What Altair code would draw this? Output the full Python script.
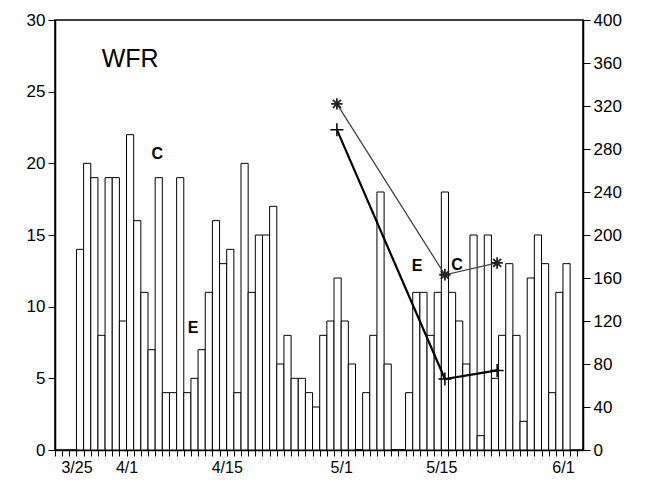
import altair as alt
import pandas as pd

# Daily bar values (left axis), day 0 = 3/25
counts = [14, 20, 19, 8, 19, 19, 9, 22, 16, 11, 7, 19, 4, 4, 19, 4, 5, 7, 11, 16, 13, 14, 4,
          20, 11, 15, 15, 17, 6, 8, 5, 5, 4, 3, 8, 9, 12, 9, 6, 0, 4, 8, 18, 6, 0, 0,
          4, 11, 11, 8, 11, 18, 11, 9, 6, 15, 1, 15, 5, 8, 13, 8, 2, 12, 15, 13, 4, 11, 13]
tick_days = [0, 7, 21, 37, 51, 68]
tick_labels = ["3/25", "4/1", "4/15", "5/1", "5/15", "6/1"]

# Line series (right axis)
line_days = [36.4, 51.5, 58.8]
star_values = [322, 163, 174]
plus_values = [298, 66, 74]

# Annotations
annot_text = ["WFR", "C", "E", "E", "C"]
annot_x = [7.5, 11.3, 16.3, 47.6, 53.2]
annot_y = [27.3, 20.65, 8.5, 12.85, 12.9]

bars_df = pd.DataFrame({
    "day": list(range(len(counts))),
    "day_end": [i + 1 for i in range(len(counts))],
    "count": counts,
    "base": [0] * len(counts),
})
star_df = pd.DataFrame({"day": line_days, "value": star_values})
plus_df = pd.DataFrame({"day": line_days, "value": plus_values})
annot_df = pd.DataFrame({"label": annot_text, "x": annot_x, "y": annot_y})

FONT = "Liberation Sans"

expr = "''"
for d, l in reversed(list(zip(tick_days, tick_labels))):
    expr = f"datum.value == {d} ? '{l}' : ({expr})"

xscale = alt.Scale(domain=[-3, 70.8], nice=False, zero=False)
xaxis = alt.Axis(values=list(range(-3, 71)), labelExpr=expr, tickSize=6,
                 labelFontSize=16, labelPadding=3, grid=False, title=None,
                 labelOverlap=False, labelFlush=False)

yl_scale = alt.Scale(domain=[0, 30], nice=False, padding=0)
yl_axis = alt.Axis(values=[0, 5, 10, 15, 20, 25, 30], tickSize=7, labelFontSize=17,
                   labelPadding=3, grid=False, title=None, orient="left")
yr_scale = alt.Scale(domain=[0, 400], nice=False)
yr_axis = alt.Axis(values=list(range(0, 401, 40)), tickSize=7, labelFontSize=17,
                   labelPadding=3, grid=False, title=None, orient="right")

bars = alt.Chart(bars_df).mark_rect(fill="white", stroke="black", strokeWidth=1).encode(
    x=alt.X("day:Q", scale=xscale, axis=xaxis),
    x2="day_end:Q",
    y=alt.Y("count:Q", scale=yl_scale, axis=yl_axis),
    y2="base:Q",
)

wfr = alt.Chart(annot_df).transform_filter("datum.label == 'WFR'").mark_text(
    font=FONT, fontSize=25, color="black").encode(
    x=alt.X("x:Q", scale=xscale, axis=xaxis),
    y=alt.Y("y:Q", scale=yl_scale, axis=yl_axis),
    text="label:N",
)
ce = alt.Chart(annot_df).transform_filter("datum.label != 'WFR'").mark_text(
    font=FONT, fontSize=16, fontWeight="bold", color="black").encode(
    x=alt.X("x:Q", scale=xscale, axis=xaxis),
    y=alt.Y("y:Q", scale=yl_scale, axis=yl_axis),
    text="label:N",
)

left = alt.layer(bars, wfr, ce)

star_path = "M-1,0L1,0M0,-1L0,1M-0.7,-0.7L0.7,0.7M-0.7,0.7L0.7,-0.7"
plus_path = "M-1,0L1,0M0,-1L0,1"

star_line = alt.Chart(star_df).mark_line(color="#444444", strokeWidth=1.3).encode(
    x=alt.X("day:Q", scale=xscale, axis=xaxis),
    y=alt.Y("value:Q", scale=yr_scale, axis=yr_axis),
)
star_pts = alt.Chart(star_df).mark_point(shape=star_path, filled=False, color="#222222",
                                         strokeWidth=1.8, size=130, opacity=1).encode(
    x=alt.X("day:Q", scale=xscale, axis=xaxis),
    y=alt.Y("value:Q", scale=yr_scale, axis=yr_axis),
)
plus_line = alt.Chart(plus_df).mark_line(color="black", strokeWidth=2.2).encode(
    x=alt.X("day:Q", scale=xscale, axis=xaxis),
    y=alt.Y("value:Q", scale=yr_scale, axis=yr_axis),
)
plus_pts = alt.Chart(plus_df).mark_point(shape=plus_path, filled=False, color="black",
                                         strokeWidth=1.5, size=170, opacity=1).encode(
    x=alt.X("day:Q", scale=xscale, axis=xaxis),
    y=alt.Y("value:Q", scale=yr_scale, axis=yr_axis),
)

right = alt.layer(star_line, plus_line, star_pts, plus_pts)

chart = alt.layer(left, right).resolve_scale(y="independent").properties(
    width=528, height=430,
    padding={"left": 55, "top": 20, "right": 64, "bottom": 37},
    autosize=alt.AutoSizeParams(type="none"),
    background="white",
).configure_view(stroke="black", strokeWidth=1.5).configure_axis(
    labelFont=FONT, labelColor="black", domainColor="black", tickColor="black",
    domainWidth=1.5, tickWidth=1,
)

chart.save("out.html", embed_options={"renderer": "svg", "actions": False})
